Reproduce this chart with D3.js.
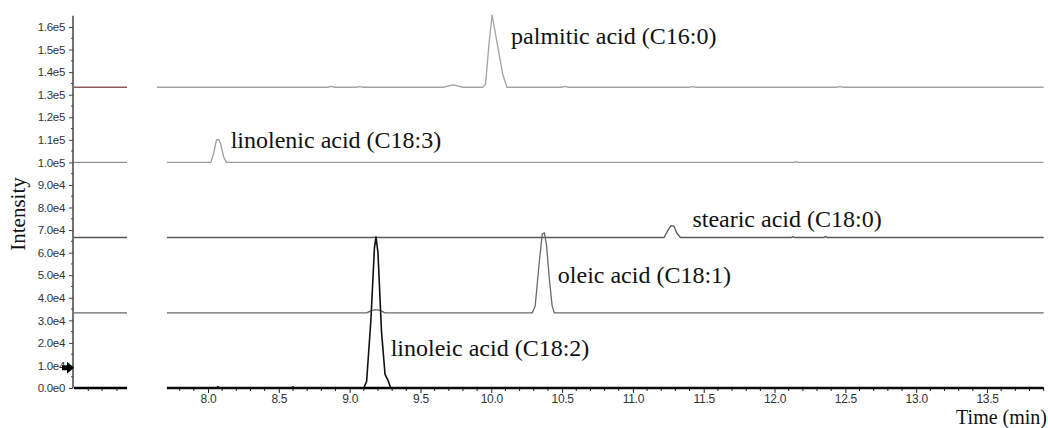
<!DOCTYPE html>
<html>
<head>
<meta charset="utf-8">
<script src="https://cdn.jsdelivr.net/npm/d3@7"></script>
<style>
    body { margin: 0; background: #fff; }
</style>
</head>
<body>
<div id="chart"></div>
<script>
// chromatogram traces, [time (min), intensity above own baseline]
const palmitic = [
    [7.64, 0], [8.85, 0], [8.87, 400], [8.89, 0], [9.05, 0], [9.07, 300], [9.09, 0],
    [9.66, 0], [9.73, 1000], [9.80, 0], [9.94, 0], [9.96, 1500], [9.985, 20000],
    [10.006, 32000], [10.04, 20000], [10.08, 6000], [10.11, 0], [10.50, 0], [10.52, 400],
    [10.54, 0], [11.40, 0], [11.42, 300], [11.44, 0], [12.44, 0], [12.46, 300], [12.48, 0], [13.9, 0]
];
const linolenic = [
    [7.71, 0], [8.02, 0], [8.04, 4000], [8.06, 10000], [8.075, 10200], [8.09, 8000],
    [8.11, 2500], [8.13, 0], [12.14, 0], [12.15, 300], [12.16, 0], [13.9, 0]
];
const stearic = [
    [7.71, 0], [11.22, 0], [11.25, 3500], [11.27, 5300], [11.29, 5000], [11.31, 2000],
    [11.335, 0], [12.12, 0], [12.13, 400], [12.14, 0], [12.35, 0], [12.36, 500], [12.37, 0], [13.9, 0]
];
const oleic = [
    [7.71, 0], [9.12, 0], [9.15, 900], [9.18, 1400], [9.21, 1200], [9.25, 0],
    [10.29, 0], [10.31, 3000], [10.335, 20000], [10.36, 35000], [10.375, 35500],
    [10.39, 30000], [10.41, 15000], [10.43, 3000], [10.445, 0], [13.9, 0]
];
const linoleic = [
    [7.71, 0], [8.06, 0], [8.07, 600], [8.08, 0], [8.59, 0], [8.60, 500], [8.61, 0],
    [9.10, 0], [9.12, 3000], [9.15, 30000], [9.175, 62000], [9.186, 67000], [9.20, 60000],
    [9.225, 25000], [9.25, 6000], [9.27, 3500], [9.29, 0], [13.9, 0]
];

const traces = [palmitic, linolenic, stearic, oleic, linoleic];
const traceOffsets = [133300, 100000, 66700, 33300, 0];
const peakLabels = [
    "palmitic acid (C16:0)", "linolenic acid (C18:3)", "stearic acid (C18:0)",
    "oleic acid (C18:1)", "linoleic acid (C18:2)"
];
const labelTimes = [10.14, 8.16, 11.42, 10.47, 9.29];
const labelIntensity = [152500, 106500, 71500, 46500, 14000];

const xMajorTicks = [8.0, 8.5, 9.0, 9.5, 10.0, 10.5, 11.0, 11.5, 12.0, 12.5, 13.0, 13.5];
const yMajorTicks = d3.range(0, 160001, 10000);

// styles
const traceColors = ["#a3a3a3", "#9c9c9c", "#5a5a5a", "#6a6a6a", "#111"];
const traceWidths = [1.3, 1.3, 1.3, 1.3, 1.6];
const stubColors = ["#8c5c5c", "#8f8f8f", "#555", "#666", "#000"];

const width = 1048;
const height = 428;

const svg = d3.select("#chart")
    .append("svg")
    .attr("width", width)
    .attr("height", height);

const x = d3.scaleLinear().domain([8, 13.5]).range([208, 987]);
const y = d3.scaleLinear().domain([0, 160000]).range([388, 27]);

const line = d3.line()
    .x(d => x(d[0]))
    .y(d => d[1]);

// format like 1.6e5 / 9.0e4 / 0.0e0
function sciFormat(v) {
    if (v === 0) return "0.0e0";
    const e = Math.floor(Math.log10(v));
    return (v / Math.pow(10, e)).toFixed(1) + "e" + e;
}

// y axis
const yAxis = svg.append("g")
    .attr("transform", "translate(73,0)")
    .call(d3.axisLeft(y).tickValues(yMajorTicks).tickFormat(sciFormat).tickSize(4));
yAxis.select(".domain").remove();
yAxis.selectAll("line").attr("stroke", "#444");
yAxis.selectAll("text")
    .attr("x", -8)
    .attr("fill", "#333")
    .style("font-family", "'Liberation Sans', Arial, sans-serif")
    .style("font-size", "11.5px")
    .style("letter-spacing", "-0.3px");

svg.append("g")
    .attr("transform", "translate(73,0)")
    .selectAll("line")
    .data(d3.range(5000, 160000, 10000))
    .join("line")
    .attr("x1", -2).attr("x2", 0)
    .attr("y1", d => y(d)).attr("y2", d => y(d))
    .attr("stroke", "#444");

svg.append("line")
    .attr("x1", 73).attr("x2", 73)
    .attr("y1", y(165000)).attr("y2", y(0))
    .attr("stroke", "#444")
    .attr("stroke-width", 1.5);

// small left panel with baseline stubs
const leftX = d3.scaleLinear().domain([0, 1]).range([74, 127]);
svg.append("g")
    .selectAll("line")
    .data(traceOffsets)
    .join("line")
    .attr("x1", leftX(0)).attr("x2", leftX(1))
    .attr("y1", d => y(d)).attr("y2", d => y(d))
    .attr("stroke", (d, i) => stubColors[i])
    .attr("stroke-width", (d, i) => i === 4 ? 2.5 : 1.3);

svg.append("g")
    .selectAll("line")
    .data([0.27, 0.53, 0.81])
    .join("line")
    .attr("x1", d => leftX(d)).attr("x2", d => leftX(d))
    .attr("y1", y(0)).attr("y2", y(0) + 3)
    .attr("stroke", "#222");

// marker arrow
const ay = y(9000);
svg.append("path")
    .attr("d", `M62,${ay - 2.5}L67,${ay - 2.5}L67,${ay - 6}L74,${ay}L67,${ay + 6}L67,${ay + 2.5}L62,${ay + 2.5}Z`)
    .attr("fill", "#000");

// x axis
const xAxis = svg.append("g")
    .attr("transform", `translate(0,${y(0)})`)
    .call(d3.axisBottom(x).tickValues(xMajorTicks).tickFormat(d3.format(".1f")).tickSize(5).tickPadding(1));
xAxis.select(".domain").remove();
xAxis.selectAll("line").attr("stroke", "#222");
xAxis.selectAll("text")
    .attr("fill", "#333")
    .style("font-family", "'Liberation Sans', Arial, sans-serif")
    .style("font-size", "12px")
    .style("letter-spacing", "-0.3px");

const minorX = d3.range(78, 140).map(d => d / 10).filter(d => Math.abs(d * 2 - Math.round(d * 2)) > 1e-6);
svg.append("g")
    .selectAll("line")
    .data(minorX)
    .join("line")
    .attr("x1", d => x(d)).attr("x2", d => x(d))
    .attr("y1", y(0)).attr("y2", y(0) + 3)
    .attr("stroke", "#222");

svg.append("line")
    .attr("x1", x(7.71)).attr("x2", x(13.9))
    .attr("y1", y(0)).attr("y2", y(0))
    .attr("stroke", "#000")
    .attr("stroke-width", 2.5);

// traces
svg.append("g")
    .selectAll("path")
    .data(traces)
    .join("path")
    .attr("d", (d, i) => line(d.map(p => [p[0], y(p[1] + traceOffsets[i])])))
    .attr("fill", "none")
    .attr("stroke", (d, i) => traceColors[i])
    .attr("stroke-width", (d, i) => traceWidths[i])
    .attr("stroke-linejoin", "round");

// peak labels
svg.append("g")
    .selectAll("text")
    .data(peakLabels)
    .join("text")
    .attr("x", (d, i) => x(labelTimes[i]))
    .attr("y", (d, i) => y(labelIntensity[i]))
    .attr("fill", "#111")
    .style("font-family", "'Liberation Serif', 'Times New Roman', serif")
    .style("font-size", "24px")
    .text(d => d);

svg.append("text")
    .attr("transform", "translate(25,214) rotate(-90)")
    .attr("text-anchor", "middle")
    .attr("fill", "#111")
    .style("font-family", "'Liberation Serif', 'Times New Roman', serif")
    .style("font-size", "21px")
    .text("Intensity");

svg.append("text")
    .attr("x", 1047)
    .attr("y", 423.5)
    .attr("text-anchor", "end")
    .attr("fill", "#111")
    .style("font-family", "'Liberation Serif', 'Times New Roman', serif")
    .style("font-size", "20px")
    .text("Time (min)");
</script>
</body>
</html>
